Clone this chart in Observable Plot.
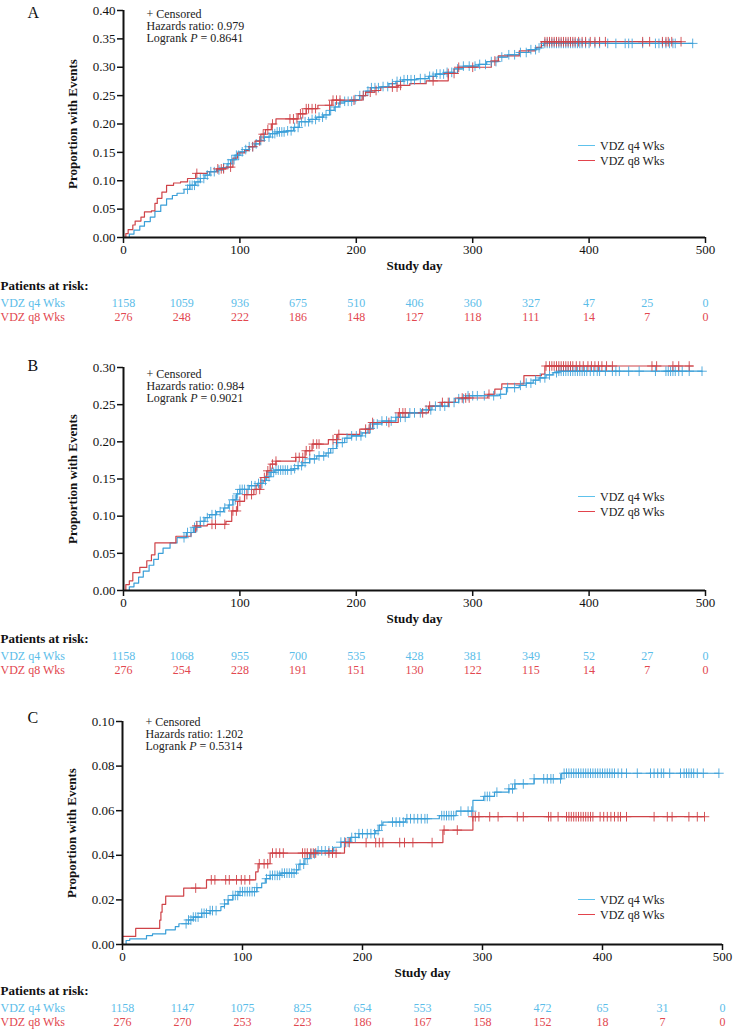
<!DOCTYPE html>
<html><head><meta charset="utf-8">
<script src="https://cdn.jsdelivr.net/npm/d3@7"></script>
<script src="https://cdn.jsdelivr.net/npm/@observablehq/plot@0.6"></script>
<style>
body{margin:0;background:#fff;}
#fig{position:relative;width:734px;height:1029px;font-family:"Liberation Serif","Times New Roman",serif;overflow:hidden}
#fig svg{position:absolute;left:0;}
.leg{position:absolute;font-size:12px;color:#222;line-height:15px;white-space:nowrap}
.leg .sw{display:inline-block;width:17px;height:0;border-top:1.5px solid;vertical-align:middle;margin-right:5px;position:relative;top:-1px}
</style></head><body><div id="fig"></div>
<script>
// ---------- shared ----------
const seriesNames = ["VDZ q4 Wks", "VDZ q8 Wks"];
const xTicks = [0, 100, 200, 300, 400, 500];
const atRiskDays = [0, 50, 100, 150, 200, 250, 300, 350, 400, 450, 500];

// ---------- Panel A ----------
const A_yTicks = [0, 0.05, 0.10, 0.15, 0.20, 0.25, 0.30, 0.35, 0.40];
const A_q4_steps = [[0,0],[5,0.006],[9,0.013],[14,0.02],[18,0.028],[23,0.036],[27,0.046],[32,0.057],[37,0.068],[42,0.074],[46,0.078],[52,0.085],[57,0.092],[62,0.098],[66,0.104],[70,0.110],[74,0.116],[80,0.119],[85,0.123],[89,0.130],[92,0.137],[96,0.145],[100,0.151],[104,0.155],[108,0.160],[113,0.165],[117,0.171],[121,0.177],[126,0.183],[132,0.186],[140,0.188],[146,0.194],[151,0.204],[160,0.208],[166,0.212],[172,0.216],[177,0.224],[181,0.230],[185,0.237],[190,0.240],[197,0.243],[203,0.250],[208,0.258],[213,0.264],[222,0.266],[228,0.271],[234,0.275],[240,0.278],[252,0.280],[262,0.284],[268,0.288],[276,0.291],[284,0.297],[292,0.302],[305,0.305],[312,0.310],[322,0.318],[330,0.322],[340,0.326],[348,0.331],[355,0.334],[359,0.338],[361,0.342],[489,0.342]];
const A_q8_steps = [[0,0],[2,0.007],[4,0.014],[8,0.022],[10,0.029],[15,0.036],[18,0.045],[24,0.047],[27,0.060],[29,0.069],[33,0.080],[37,0.092],[43,0.096],[49,0.098],[55,0.104],[62,0.113],[72,0.116],[80,0.121],[88,0.124],[94,0.140],[98,0.149],[104,0.153],[108,0.160],[113,0.170],[118,0.182],[122,0.190],[127,0.200],[131,0.209],[150,0.218],[157,0.227],[167,0.233],[179,0.242],[205,0.250],[208,0.256],[216,0.259],[221,0.265],[236,0.268],[246,0.271],[260,0.276],[279,0.289],[287,0.300],[316,0.311],[322,0.320],[340,0.329],[354,0.335],[359,0.345],[479,0.345]];
const A_q4_cens = [55,57,59,61,64,66,69,72,75,78,82,86,90,93,95,97,99,102,105,108,111,114,118,121,125,128,130,132,134,136,138,141,144,147,150,153,156,159,162,165,168,171,174,178,182,186,190,193,196,199,203,206,210,213,216,219,223,227,231,235,238,241,244,247,250,255,259,263,266,269,272,275,278,282,287,292,297,302,306,311,316,320,325,331,336,341,346,350,354,357,362,364,366,368,370,372,374,376,378,380,382,384,386,388,390,392,394,397,400,405,409,416,423,431,434,437,446,457,460,463,466,469,472,474,489];
const A_q8_cens = [63,81,84,86,92,111,117,120,124,128,143,146,149,152,154,157,159,162,165,177,180,183,186,198,206,212,217,231,235,238,266,279,284,288,300,319,362,364,366,368,370,372,374,376,378,380,382,384,386,388,391,394,397,401,405,409,414,446,452,463,466,468,471,479];
const A_risk_q4 = [1158, 1059, 936, 675, 510, 406, 360, 327, 47, 25, 0];
const A_risk_q8 = [276, 248, 222, 186, 148, 127, 118, 111, 14, 7, 0];

// ---------- Panel B ----------
const B_yTicks = [0, 0.05, 0.10, 0.15, 0.20, 0.25, 0.30];
const B_q4_steps = [[0,0],[5,0.005],[9,0.010],[13,0.018],[17,0.026],[22,0.034],[26,0.042],[30,0.050],[34,0.057],[40,0.064],[46,0.071],[54,0.078],[60,0.085],[66,0.093],[70,0.098],[74,0.102],[80,0.106],[86,0.111],[90,0.115],[94,0.122],[97,0.130],[100,0.136],[108,0.141],[115,0.144],[120,0.148],[123,0.153],[126,0.159],[130,0.162],[146,0.164],[150,0.168],[154,0.172],[160,0.177],[166,0.181],[174,0.185],[178,0.191],[183,0.199],[190,0.205],[196,0.208],[205,0.212],[210,0.218],[214,0.224],[222,0.228],[234,0.233],[245,0.239],[256,0.243],[265,0.248],[279,0.253],[288,0.258],[294,0.262],[323,0.264],[329,0.273],[340,0.276],[346,0.279],[352,0.283],[357,0.286],[363,0.290],[369,0.293],[374,0.295],[497,0.295]];
const B_q8_steps = [[0,0],[2,0.008],[5,0.013],[8,0.024],[14,0.031],[20,0.040],[24,0.048],[27,0.064],[45,0.073],[58,0.078],[62,0.087],[72,0.089],[88,0.093],[93,0.107],[98,0.120],[104,0.129],[112,0.136],[118,0.152],[123,0.161],[126,0.170],[131,0.174],[148,0.179],[156,0.188],[162,0.197],[176,0.203],[184,0.210],[203,0.217],[212,0.226],[236,0.239],[262,0.248],[273,0.253],[285,0.259],[313,0.264],[319,0.271],[325,0.278],[344,0.289],[359,0.291],[362,0.302],[489,0.302]];
const B_q4_cens = [52,55,58,61,63,66,69,72,76,79,83,87,91,94,96,98,100,102,104,107,110,113,116,119,122,125,127,129,131,133,135,137,139,141,144,147,150,153,156,160,164,168,172,176,180,184,188,192,196,200,204,208,212,215,218,222,226,230,234,238,242,246,250,255,260,264,268,272,276,280,284,288,292,296,300,304,310,318,324,330,336,341,346,350,354,358,362,366,372,374,376,378,380,382,384,386,388,390,392,394,396,398,401,404,407,409,414,420,423,426,434,443,457,466,468,470,472,474,477,480,486,497];
const B_q8_cens = [63,76,79,87,94,97,100,106,110,114,117,121,124,128,131,148,151,154,157,160,163,166,168,180,183,185,208,211,214,228,237,240,242,257,263,274,279,291,294,297,314,363,366,368,370,372,374,376,378,380,382,384,386,389,392,395,399,402,405,408,411,415,420,454,458,472,477,486];
const B_risk_q4 = [1158, 1068, 955, 700, 535, 428, 381, 349, 52, 27, 0];
const B_risk_q8 = [276, 254, 228, 191, 151, 130, 122, 115, 14, 7, 0];

// ---------- Panel C ----------
const C_yTicks = [0, 0.02, 0.04, 0.06, 0.08, 0.10];
const C_q4_steps = [[0,0],[3,0.0018],[6,0.0025],[20,0.004],[25,0.0048],[36,0.0066],[44,0.008],[47,0.0093],[55,0.011],[59,0.0123],[66,0.014],[73,0.0152],[82,0.017],[85,0.0182],[88,0.020],[92,0.022],[97,0.0237],[112,0.0255],[116,0.0275],[119,0.0295],[123,0.031],[132,0.032],[145,0.0335],[147,0.036],[152,0.0385],[156,0.0407],[162,0.042],[176,0.0436],[182,0.0459],[190,0.048],[197,0.0497],[211,0.0511],[214,0.0535],[217,0.0549],[236,0.0564],[264,0.0578],[278,0.0598],[292,0.0646],[301,0.0664],[310,0.0683],[322,0.0698],[327,0.072],[343,0.0743],[366,0.0768],[497,0.0768]];
const C_q8_steps = [[0,0.0036],[11,0.0072],[31,0.0109],[32,0.0145],[33,0.018],[36,0.0217],[51,0.0253],[70,0.029],[111,0.0326],[113,0.0362],[123,0.041],[185,0.0457],[267,0.0513],[292,0.0573],[485,0.0573]];
const C_q4_cens = [53,55,57,59,61,63,66,68,70,73,75,78,85,88,92,94,96,98,100,102,104,106,108,110,112,120,123,125,127,129,131,133,135,137,139,141,143,145,148,151,154,157,160,163,166,169,172,175,182,185,188,191,194,197,200,204,207,210,213,216,225,228,231,234,237,240,243,246,249,252,254,266,268,270,272,274,276,282,288,291,302,304,306,312,322,325,327,334,343,351,354,357,359,365,368,370,372,374,376,378,380,382,384,386,388,390,392,394,396,398,400,402,404,406,408,410,413,416,420,429,440,443,446,449,451,456,465,468,470,472,474,476,479,484,497];
const C_q8_cens = [61,74,77,86,89,95,99,102,106,114,118,121,125,128,131,134,150,152,154,157,159,161,172,175,178,186,189,203,211,214,217,231,235,242,258,268,279,292,294,297,306,313,329,334,355,357,363,370,372,374,376,378,380,382,384,386,388,390,392,398,401,404,407,410,413,415,420,443,454,458,472,479,485];
const C_risk_q4 = [1158, 1147, 1075, 825, 654, 553, 505, 472, 65, 31, 0];
const C_risk_q8 = [276, 270, 253, 223, 186, 167, 158, 152, 18, 7, 0];

// ---------- styling ----------
const lineBlue = "#3a9fd8", lineRed = "#cf4348";
const legBlue = "#5ec2ec", legRed = "#e2434c";
const txtBlue = "#5bbde9", txtRed = "#e2474f";
const FONT = "'Liberation Serif','Times New Roman',serif";

const panels = [
  {letter:"A", top:0, mt:10, h:280, ml:123, mr:29, yMax:0.40, yTicks:A_yTicks, q4:A_q4_steps, q8:A_q8_steps, c4:A_q4_cens, c8:A_q8_cens, hr:"0.979", p:"0.8641", r4:A_risk_q4, r8:A_risk_q8, letterDy:2, annDy:-1, legY:146, tabDy:0},
  {letter:"B", top:350, mt:17, h:283, ml:123, mr:29, yMax:0.30, yTicks:B_yTicks, q4:B_q4_steps, q8:B_q8_steps, c4:B_q4_cens, c8:B_q8_cens, hr:"0.984", p:"0.9021", r4:B_risk_q4, r8:B_risk_q8, letterDy:-2, annDy:2, legY:497, tabDy:0},
  {letter:"C", top:700, mt:21, h:287, ml:122, mr:12, yMax:0.10, yTicks:C_yTicks, q4:C_q4_steps, q8:C_q8_steps, c4:C_q4_cens, c8:C_q8_cens, hr:"1.202", p:"0.5314", r4:C_risk_q4, r8:C_risk_q8, letterDy:-4, annDy:-4, legY:900, tabDy:-2}
];

function stepAt(steps, t) {
  let v = steps[0][1];
  for (const [d, p] of steps) { if (d <= t) v = p; else break; }
  return v;
}

const fig = document.getElementById("fig");

for (const P of panels) {
  const c4 = P.c4.map(t => ({t, p: stepAt(P.q4, t)}));
  const c8 = P.c8.map(t => ({t, p: stepAt(P.q8, t)}));
  const ann = `+ Censored\nHazards ratio: ${P.hr}\nLogrank P = ${P.p}`;
  const main = Plot.plot({
    width: 734, height: P.h,
    marginTop: P.mt, marginBottom: 43, marginLeft: P.ml, marginRight: P.mr,
    style: {fontFamily: FONT, fontSize: "13px", color: "#111", background: "transparent", overflow: "visible"},
    x: {domain: [0, 500]},
    y: {domain: [0, P.yMax]},
    marks: [
      Plot.axisX({ticks: xTicks, tickSize: 6, tickPadding: 1, tickFormat: d => String(d), label: null, strokeWidth: 1.5, fontSize: 13}),
      Plot.axisY({ticks: P.yTicks, tickSize: 6, tickPadding: 2, tickFormat: d3.format(".2f"), label: null, strokeWidth: 1.5, fontSize: 13}),
      Plot.line(P.q4, {x: d => d[0], y: d => d[1], curve: "step-after", stroke: lineBlue, strokeWidth: 1.2}),
      Plot.line(P.q8, {x: d => d[0], y: d => d[1], curve: "step-after", stroke: lineRed, strokeWidth: 1.2}),
      Plot.dot(c4, {x: "t", y: "p", symbol: "plus", r: 3.2, stroke: lineBlue, strokeWidth: 1, strokeOpacity: 0.85}),
      Plot.dot(c8, {x: "t", y: "p", symbol: "plus", r: 3.2, stroke: lineRed, strokeWidth: 1, strokeOpacity: 0.9}),
      Plot.ruleX([0], {stroke: "#111", strokeWidth: 2}),
      Plot.ruleY([0], {stroke: "#111", strokeWidth: 2}),
      Plot.text(["Study day"], {frameAnchor: "bottom", dy: 32, fontWeight: "bold", fontSize: 13, fill: "#111"}),
      Plot.text(["Proportion with Events"], {frameAnchor: "left", dx: -51, rotate: -90, textAnchor: "middle", lineAnchor: "middle", fontWeight: "bold", fontSize: 13, fill: "#111"}),
      Plot.text([P.letter], {frameAnchor: "top-left", dx: 27 - P.ml, dy: P.letterDy, textAnchor: "start", lineAnchor: "middle", fontSize: 16, fill: "#111"}),
      Plot.text([ann], {frameAnchor: "top-left", dx: 23, dy: P.annDy, lineAnchor: "top", textAnchor: "start", fontSize: 12, lineHeight: 1.0, fill: "#222"})
    ]
  });
  main.style.top = P.top + "px";
  // italic P in the logrank line
  d3.select(main).selectAll("tspan").each(function() {
    const s = this.textContent;
    if (s.startsWith("Logrank P")) {
      const t = d3.select(this);
      const rest = s.slice("Logrank P".length);
      t.text(null).style("white-space", "pre");
      t.append("tspan").text("Logrank ");
      t.append("tspan").attr("font-style", "italic").text("P");
      t.append("tspan").text(rest);
    }
  });
  fig.appendChild(main);

  // legend
  const leg = document.createElement("div");
  leg.className = "leg";
  leg.style.left = "578px";
  leg.style.top = (P.legY - 7.5) + "px";
  leg.innerHTML = `<div><span class="sw" style="border-color:${legBlue}"></span>${seriesNames[0]}</div><div><span class="sw" style="border-color:${legRed}"></span>${seriesNames[1]}</div>`;
  fig.appendChild(leg);

  // at-risk table
  const frameBottom = P.top + P.h - 43;
  const risk4 = atRiskDays.map((d, i) => ({d, n: P.r4[i], s: seriesNames[0]}));
  const risk8 = atRiskDays.map((d, i) => ({d, n: P.r8[i], s: seriesNames[1]}));
  const tab = Plot.plot({
    width: 734, height: 48, marginTop: 0, marginBottom: 0, marginLeft: P.ml, marginRight: P.mr,
    style: {fontFamily: FONT, fontSize: "12px", background: "transparent", overflow: "visible"},
    x: {domain: [0, 500], axis: null},
    y: {type: "point", domain: seriesNames, range: [28, 42.5], padding: 0, axis: null},
    marks: [
      Plot.text(["Patients at risk:"], {frameAnchor: "top-left", dx: -P.ml, dy: 10, lineAnchor: "middle", textAnchor: "start", fontWeight: "bold", fontSize: 13, fill: "#111"}),
      Plot.text([seriesNames[0]], {y: d => d, frameAnchor: "left", dx: -P.ml, textAnchor: "start", fontSize: 12, fill: txtBlue}),
      Plot.text([seriesNames[1]], {y: d => d, frameAnchor: "left", dx: -P.ml, textAnchor: "start", fontSize: 12, fill: txtRed}),
      Plot.text(risk4, {x: "d", y: "s", text: d => String(d.n), fontSize: 12, fill: txtBlue}),
      Plot.text(risk8, {x: "d", y: "s", text: d => String(d.n), fontSize: 12, fill: txtRed})
    ]
  });
  tab.style.top = (frameBottom + 38 + P.tabDy) + "px";
  fig.appendChild(tab);
}
</script></body></html>
